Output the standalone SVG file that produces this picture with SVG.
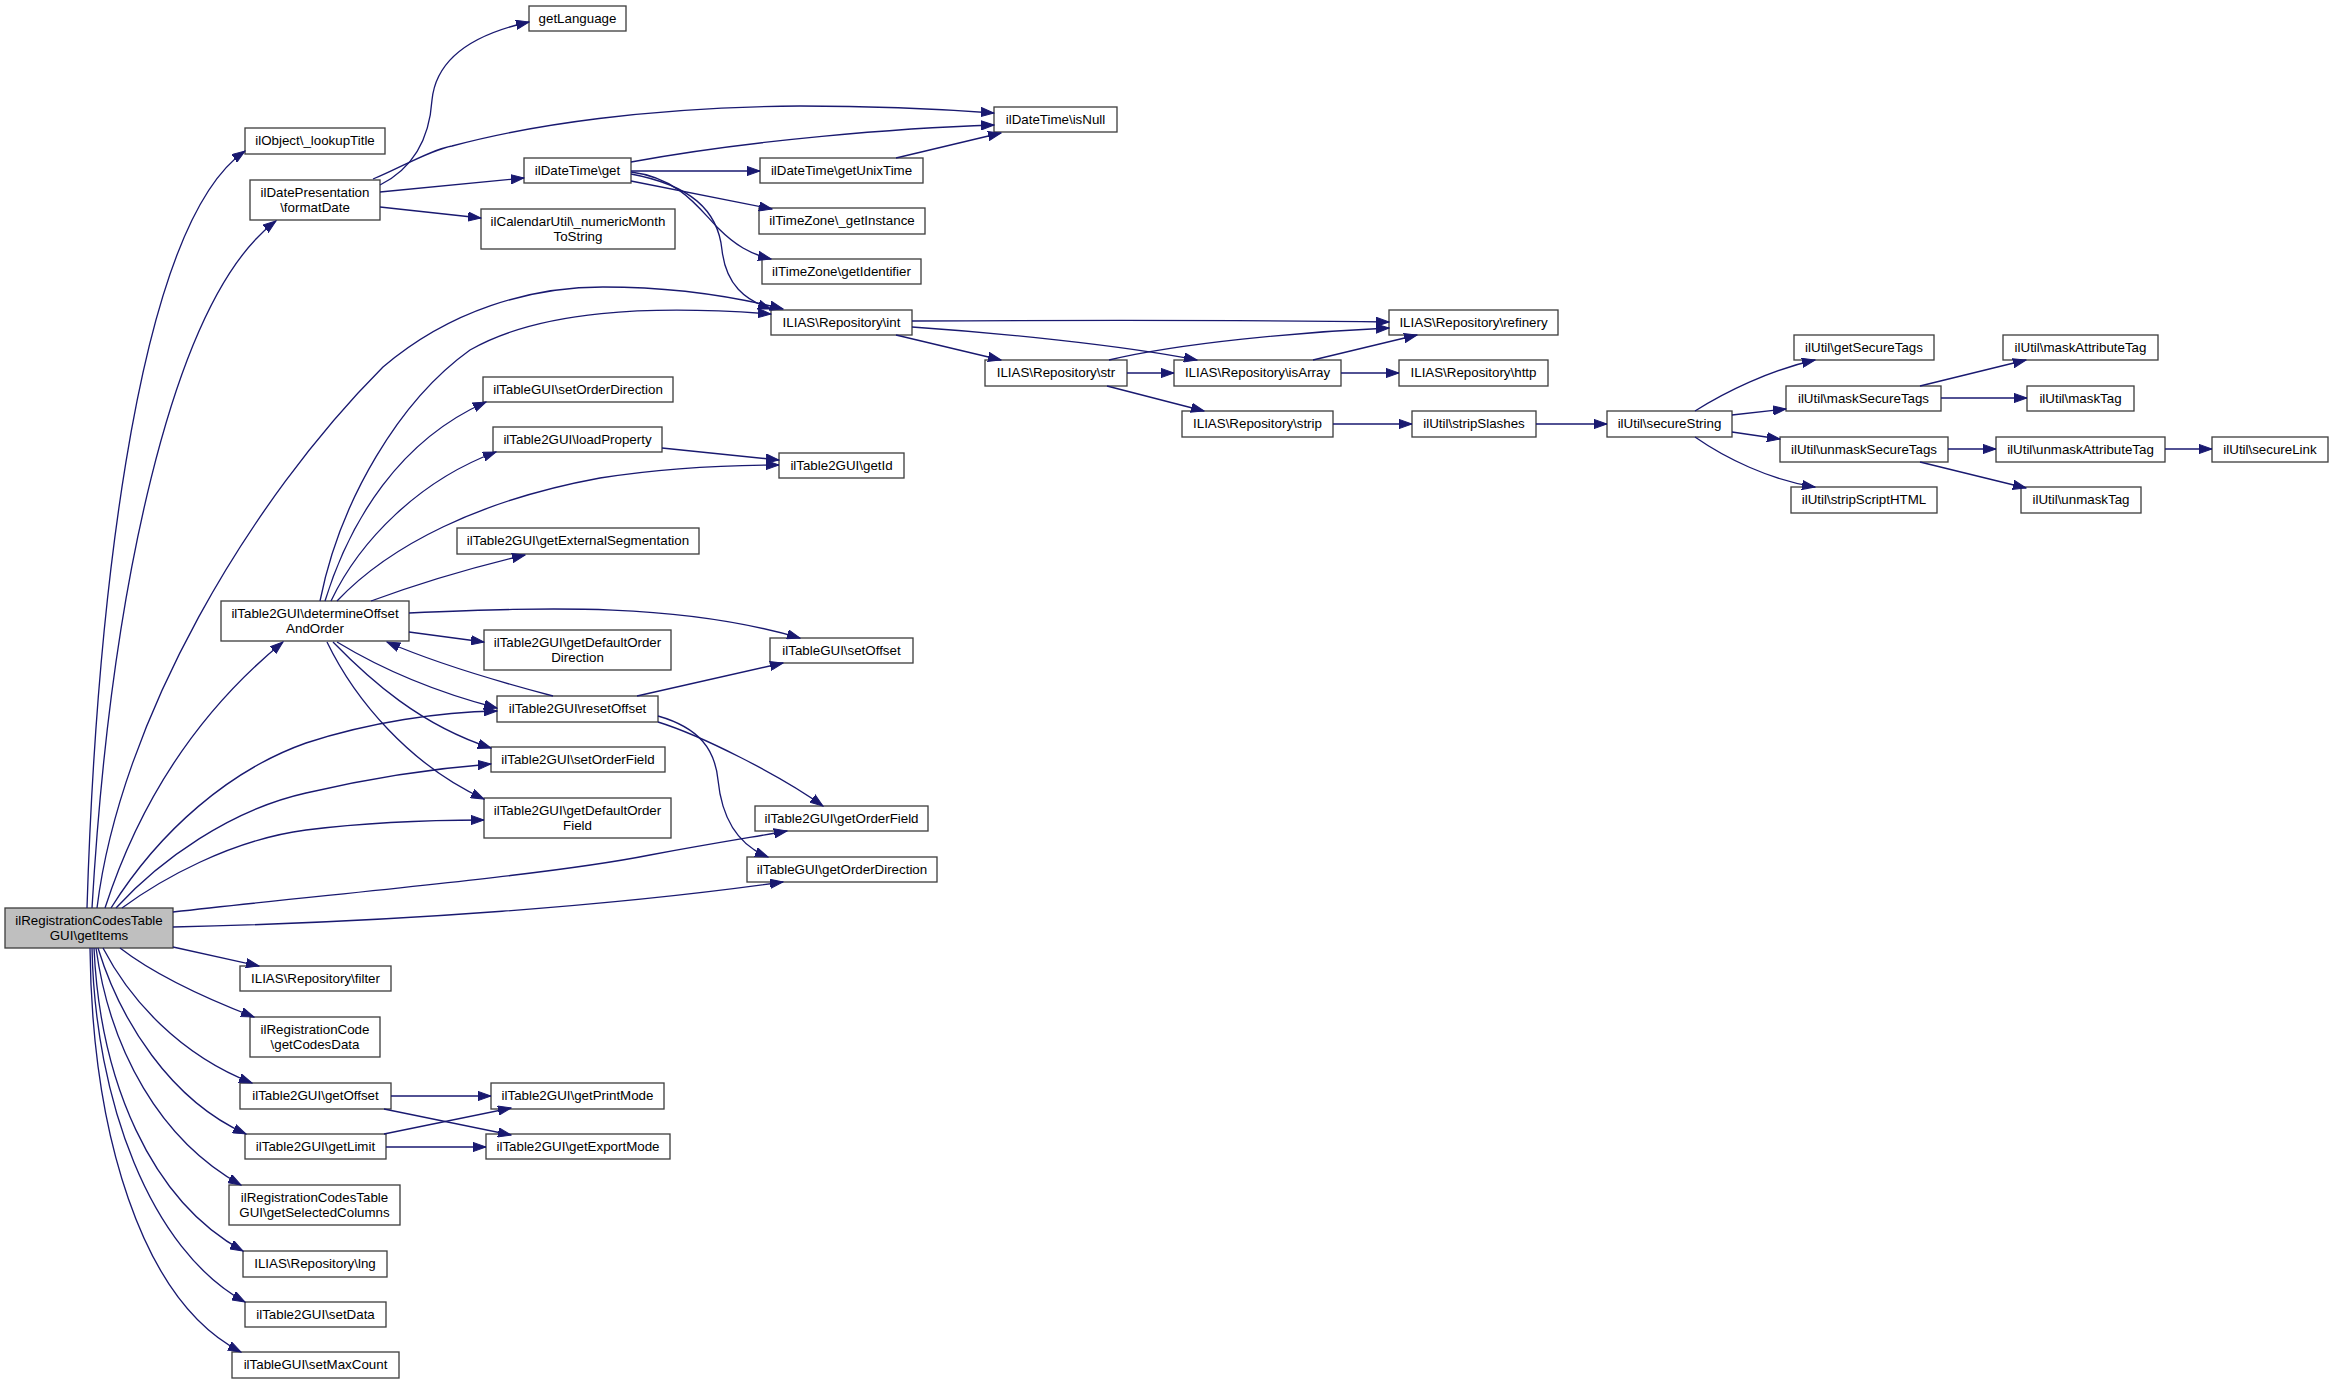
<svg xmlns="http://www.w3.org/2000/svg" width="2333" height="1384" viewBox="0 0 2333 1384">
<style>
.n rect{fill:#ffffff;stroke:#404040;stroke-width:1.33}
.m rect{fill:#bfbfbf}
.n text{font-family:"Liberation Sans",Arial,sans-serif;font-size:13.33px;fill:#000000;text-anchor:middle}
#edges path{fill:none;stroke:#191970;stroke-width:1.33;marker-end:url(#ah)}
</style>
<defs>
<marker id="ah" markerUnits="userSpaceOnUse" markerWidth="14" markerHeight="10" refX="13" refY="5" orient="auto" viewBox="0 0 14 10">
<path d="M0,0.4 L13,5 L0,9.6 z" fill="#191970" stroke="#191970" stroke-width="1"/>
</marker>
</defs>
<rect x="0" y="0" width="2333" height="1384" fill="#ffffff"/>

<g id="n_getItems" class="n m"><rect x="5" y="908" width="168" height="40"/><text x="89" y="925">ilRegistrationCodesTable</text><text x="89" y="940">GUI\getItems</text></g>
<g id="n_lookupTitle" class="n"><rect x="245" y="128" width="140" height="26"/><text x="315" y="145">ilObject\_lookupTitle</text></g>
<g id="n_formatDate" class="n"><rect x="250" y="180" width="130" height="40"/><text x="315" y="197">ilDatePresentation</text><text x="315" y="212">\formatDate</text></g>
<g id="n_getLanguage" class="n"><rect x="529" y="6" width="97" height="25"/><text x="577.5" y="23">getLanguage</text></g>
<g id="n_isNull" class="n"><rect x="994" y="107" width="123" height="25"/><text x="1055.5" y="124">ilDateTime\isNull</text></g>
<g id="n_get" class="n"><rect x="524" y="158" width="107" height="25"/><text x="577.5" y="175">ilDateTime\get</text></g>
<g id="n_numericMonth" class="n"><rect x="481" y="209" width="194" height="40"/><text x="578" y="226">ilCalendarUtil\_numericMonth</text><text x="578" y="241">ToString</text></g>
<g id="n_getUnixTime" class="n"><rect x="760" y="158" width="163" height="25"/><text x="841.5" y="175">ilDateTime\getUnixTime</text></g>
<g id="n_getInstance" class="n"><rect x="759" y="208" width="166" height="26"/><text x="842" y="225">ilTimeZone\_getInstance</text></g>
<g id="n_getIdentifier" class="n"><rect x="762" y="259" width="159" height="25"/><text x="841.5" y="276">ilTimeZone\getIdentifier</text></g>
<g id="n_int" class="n"><rect x="771" y="310" width="141" height="25"/><text x="841.5" y="327">ILIAS\Repository\int</text></g>
<g id="n_refinery" class="n"><rect x="1389" y="310" width="169" height="25"/><text x="1473.5" y="327">ILIAS\Repository\refinery</text></g>
<g id="n_str" class="n"><rect x="985" y="360" width="142" height="26"/><text x="1056" y="377">ILIAS\Repository\str</text></g>
<g id="n_isArray" class="n"><rect x="1174" y="360" width="167" height="26"/><text x="1257.5" y="377">ILIAS\Repository\isArray</text></g>
<g id="n_http" class="n"><rect x="1399" y="360" width="149" height="26"/><text x="1473.5" y="377">ILIAS\Repository\http</text></g>
<g id="n_strip" class="n"><rect x="1182" y="411" width="151" height="26"/><text x="1257.5" y="428">ILIAS\Repository\strip</text></g>
<g id="n_stripSlashes" class="n"><rect x="1412" y="411" width="124" height="26"/><text x="1474" y="428">ilUtil\stripSlashes</text></g>
<g id="n_secureString" class="n"><rect x="1607" y="411" width="125" height="26"/><text x="1669.5" y="428">ilUtil\secureString</text></g>
<g id="n_getSecureTags" class="n"><rect x="1794" y="335" width="140" height="25"/><text x="1864" y="352">ilUtil\getSecureTags</text></g>
<g id="n_maskSecureTags" class="n"><rect x="1786" y="386" width="155" height="25"/><text x="1863.5" y="403">ilUtil\maskSecureTags</text></g>
<g id="n_unmaskSecureTags" class="n"><rect x="1780" y="437" width="168" height="25"/><text x="1864" y="454">ilUtil\unmaskSecureTags</text></g>
<g id="n_stripScriptHTML" class="n"><rect x="1791" y="487" width="146" height="26"/><text x="1864" y="504">ilUtil\stripScriptHTML</text></g>
<g id="n_maskAttributeTag" class="n"><rect x="2003" y="335" width="155" height="25"/><text x="2080.5" y="352">ilUtil\maskAttributeTag</text></g>
<g id="n_maskTag" class="n"><rect x="2027" y="386" width="107" height="25"/><text x="2080.5" y="403">ilUtil\maskTag</text></g>
<g id="n_unmaskAttributeTag" class="n"><rect x="1996" y="437" width="169" height="25"/><text x="2080.5" y="454">ilUtil\unmaskAttributeTag</text></g>
<g id="n_unmaskTag" class="n"><rect x="2021" y="487" width="120" height="26"/><text x="2081" y="504">ilUtil\unmaskTag</text></g>
<g id="n_secureLink" class="n"><rect x="2212" y="437" width="116" height="25"/><text x="2270" y="454">ilUtil\secureLink</text></g>
<g id="n_setOrderDirection" class="n"><rect x="483" y="377" width="190" height="25"/><text x="578" y="394">ilTableGUI\setOrderDirection</text></g>
<g id="n_loadProperty" class="n"><rect x="493" y="427" width="169" height="25"/><text x="577.5" y="444">ilTable2GUI\loadProperty</text></g>
<g id="n_getId" class="n"><rect x="779" y="453" width="125" height="25"/><text x="841.5" y="470">ilTable2GUI\getId</text></g>
<g id="n_getExternalSegmentation" class="n"><rect x="457" y="528" width="242" height="26"/><text x="578" y="545">ilTable2GUI\getExternalSegmentation</text></g>
<g id="n_determineOffsetAndOrder" class="n"><rect x="221" y="601" width="188" height="40"/><text x="315" y="618">ilTable2GUI\determineOffset</text><text x="315" y="633">AndOrder</text></g>
<g id="n_getDefaultOrderDirection" class="n"><rect x="484" y="630" width="187" height="40"/><text x="577.5" y="647">ilTable2GUI\getDefaultOrder</text><text x="577.5" y="662">Direction</text></g>
<g id="n_setOffset" class="n"><rect x="770" y="638" width="143" height="25"/><text x="841.5" y="655">ilTableGUI\setOffset</text></g>
<g id="n_resetOffset" class="n"><rect x="497" y="696" width="161" height="26"/><text x="577.5" y="713">ilTable2GUI\resetOffset</text></g>
<g id="n_setOrderField" class="n"><rect x="491" y="747" width="174" height="25"/><text x="578" y="764">ilTable2GUI\setOrderField</text></g>
<g id="n_getDefaultOrderField" class="n"><rect x="484" y="798" width="187" height="40"/><text x="577.5" y="815">ilTable2GUI\getDefaultOrder</text><text x="577.5" y="830">Field</text></g>
<g id="n_getOrderField" class="n"><rect x="755" y="806" width="173" height="25"/><text x="841.5" y="823">ilTable2GUI\getOrderField</text></g>
<g id="n_getOrderDirection" class="n"><rect x="747" y="857" width="190" height="25"/><text x="842" y="874">ilTableGUI\getOrderDirection</text></g>
<g id="n_filter" class="n"><rect x="240" y="966" width="151" height="25"/><text x="315.5" y="983">ILIAS\Repository\filter</text></g>
<g id="n_getCodesData" class="n"><rect x="250" y="1017" width="130" height="40"/><text x="315" y="1034">ilRegistrationCode</text><text x="315" y="1049">\getCodesData</text></g>
<g id="n_getOffset" class="n"><rect x="240" y="1083" width="151" height="26"/><text x="315.5" y="1100">ilTable2GUI\getOffset</text></g>
<g id="n_getLimit" class="n"><rect x="245" y="1134" width="141" height="25"/><text x="315.5" y="1151">ilTable2GUI\getLimit</text></g>
<g id="n_getPrintMode" class="n"><rect x="491" y="1083" width="173" height="26"/><text x="577.5" y="1100">ilTable2GUI\getPrintMode</text></g>
<g id="n_getExportMode" class="n"><rect x="486" y="1134" width="184" height="25"/><text x="578" y="1151">ilTable2GUI\getExportMode</text></g>
<g id="n_getSelectedColumns" class="n"><rect x="229" y="1185" width="171" height="40"/><text x="314.5" y="1202">ilRegistrationCodesTable</text><text x="314.5" y="1217">GUI\getSelectedColumns</text></g>
<g id="n_lng" class="n"><rect x="243" y="1251" width="144" height="26"/><text x="315" y="1268">ILIAS\Repository\lng</text></g>
<g id="n_setData" class="n"><rect x="245" y="1302" width="141" height="25"/><text x="315.5" y="1319">ilTable2GUI\setData</text></g>
<g id="n_setMaxCount" class="n"><rect x="232" y="1352" width="167" height="26"/><text x="315.5" y="1369">ilTableGUI\setMaxCount</text></g>

<g id="edges">
<path d="M87,908 C95,650 130,230 245,151"/>
<path d="M92,908 C110,600 170,300 276,221"/>
<path d="M97,908 C120,720 250,500 383,367 C450,310 530,287 603,287 C680,287 740,298 783,309"/>
<path d="M105,908 C140,800 200,710 283,642"/>
<path d="M111,908 C160,830 230,770 306,743 C370,722 440,712 497,711"/>
<path d="M116,908 C160,860 230,810 306,793 C370,778 440,768 491,764"/>
<path d="M122,908 C160,880 230,840 306,830 C370,822 430,820 484,820"/>
<path d="M173,912 C350,892 550,875 650,855 C720,842 760,836 787,831"/>
<path d="M173,927 C400,922 620,905 783,882"/>
<path d="M173,947 L259,966"/>
<path d="M120,948 C155,975 210,1000 254,1017"/>
<path d="M103,948 C130,1000 180,1055 252,1083"/>
<path d="M98,948 C120,1020 170,1100 246,1134"/>
<path d="M96,948 C110,1050 160,1140 241,1185"/>
<path d="M94,948 C100,1080 150,1200 243,1251"/>
<path d="M92,948 C95,1100 150,1250 245,1302"/>
<path d="M90,948 C92,1130 140,1300 241,1352"/>

<path d="M380,185 C420,165 430,130 432,100 C436,60 470,35 529,22"/>
<path d="M373,179 C400,168 430,150 452,146 C530,125 650,107 800,106 C880,106 940,109 994,113"/>
<path d="M380,192 L524,178"/>
<path d="M380,207 L481,218"/>

<path d="M631,162 C750,140 900,128 994,125"/>
<path d="M631,171 L760,171"/>
<path d="M631,181 L772,209"/>
<path d="M631,172 C680,178 700,210 718,228 C735,245 750,254 771,259"/>
<path d="M631,174 C690,185 718,210 722,250 C726,285 745,300 771,309"/>
<path d="M896,158 L1001,133"/>

<path d="M912,321 C1100,320 1250,320 1389,322"/>
<path d="M912,327 C1000,333 1120,345 1197,360"/>
<path d="M896,335 L1001,360"/>
<path d="M1109,360 C1180,343 1300,332 1389,328"/>
<path d="M1127,373 L1174,373"/>
<path d="M1107,386 L1204,411"/>
<path d="M1313,360 L1417,335"/>
<path d="M1341,373 L1399,373"/>
<path d="M1333,424 L1412,424"/>
<path d="M1536,424 L1607,424"/>
<path d="M1695,411 C1725,392 1770,370 1815,360"/>
<path d="M1732,415 L1786,409"/>
<path d="M1732,432 L1780,439"/>
<path d="M1695,437 C1725,458 1770,480 1815,487"/>
<path d="M1920,386 L2026,360"/>
<path d="M1941,398 L2027,398"/>
<path d="M1948,449 L1996,449"/>
<path d="M1920,462 L2026,488"/>
<path d="M2165,449 L2212,449"/>

<path d="M320,601 C340,500 400,400 470,350 C540,310 650,305 771,314"/>
<path d="M325,601 C350,520 400,440 486,402"/>
<path d="M331,601 C360,540 420,480 496,452"/>
<path d="M337,601 C390,545 480,500 600,478 C670,467 730,465 779,465"/>
<path d="M371,601 C420,583 470,568 525,555"/>
<path d="M409,613 C550,607 680,603 800,638"/>
<path d="M409,632 L484,642"/>
<path d="M337,642 C370,662 420,688 497,708"/>
<path d="M333,642 C370,680 420,725 491,748"/>
<path d="M327,642 C355,700 410,765 484,799"/>

<path d="M553,696 C500,682 440,665 387,642"/>
<path d="M637,696 L783,663"/>
<path d="M658,722 C700,735 780,775 823,806"/>
<path d="M658,716 C700,728 715,750 718,780 C722,820 738,845 768,857"/>
<path d="M662,448 L779,460"/>

<path d="M391,1096 L491,1096"/>
<path d="M384,1109 L511,1135"/>
<path d="M384,1134 L511,1108"/>
<path d="M386,1147 L486,1147"/>
</g>
</svg>
